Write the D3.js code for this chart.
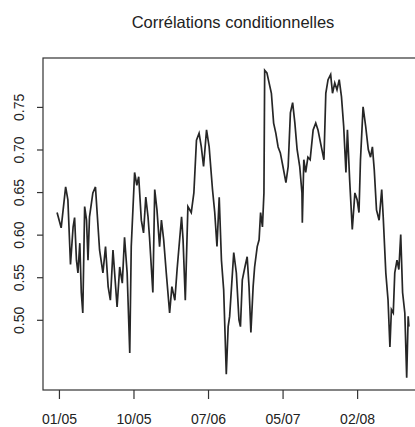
<!DOCTYPE html>
<html>
<head>
<meta charset="utf-8">
<script src="https://cdn.jsdelivr.net/npm/d3@7.9.0/dist/d3.min.js"></script>
<style>
  body { margin: 0; background: #fff; }
  svg { display: block; font-family: "Liberation Sans", Arial, sans-serif; }
</style>
</head>
<body>
<svg id="chart" width="415" height="427"></svg>
<script>
// ========= Data =========
const title = "Corrélations conditionnelles";

// observation number (trading day) of each reading
const days = [
  1, 12, 24, 30, 37, 44, 48, 53, 57, 62, 66, 70, 75, 80, 84, 88, 97, 104, 108, 115,
  124, 131, 138, 144, 151, 162, 169, 176, 182, 189, 196, 200, 209, 215, 220, 227, 233, 239, 245, 249,
  258, 263, 269, 276, 281, 287, 294, 303, 309, 317, 323, 335, 339, 345, 352, 361, 368, 375, 382, 388,
  394, 402, 409, 418, 424, 430, 436, 442, 448, 455, 460, 464, 475, 482, 489, 493, 498, 505, 511, 516,
  521, 527, 531, 538, 543, 547, 552, 556, 558, 564, 570, 576, 582, 588, 594, 600, 607, 615, 621, 627,
  633, 639, 645, 652, 658, 659, 663, 668, 674, 680, 688, 695, 701, 710, 717, 722, 728, 735, 740, 746,
  752, 758, 764, 770, 776, 780, 786, 793, 800, 806, 811, 815, 822, 829, 836, 842, 847, 852, 858, 865,
  872, 876, 883, 889, 894, 898, 903, 907, 913, 918, 923, 928, 934, 939, 943, 945
];

// conditional correlation
const correlations = [
  0.626, 0.608, 0.656, 0.641, 0.565, 0.609, 0.620, 0.570, 0.555, 0.590, 0.532, 0.508, 0.633, 0.617, 0.570, 0.621, 0.649, 0.656, 0.629, 0.582,
  0.555, 0.586, 0.539, 0.523, 0.582, 0.515, 0.562, 0.543, 0.597, 0.555, 0.461, 0.586, 0.673, 0.658, 0.668, 0.617, 0.602, 0.644, 0.621, 0.597,
  0.532, 0.653, 0.629, 0.586, 0.617, 0.594, 0.555, 0.508, 0.539, 0.523, 0.559, 0.621, 0.594, 0.523, 0.633, 0.626, 0.649, 0.711, 0.719, 0.703,
  0.680, 0.723, 0.703, 0.653, 0.626, 0.586, 0.644, 0.570, 0.535, 0.436, 0.492, 0.504, 0.579, 0.555, 0.500, 0.492, 0.547, 0.562, 0.574, 0.539,
  0.485, 0.539, 0.562, 0.586, 0.594, 0.626, 0.609, 0.649, 0.793, 0.790, 0.778, 0.766, 0.731, 0.719, 0.703, 0.696, 0.680, 0.661, 0.680, 0.743,
  0.755, 0.731, 0.700, 0.680, 0.649, 0.614, 0.688, 0.673, 0.691, 0.688, 0.723, 0.731, 0.723, 0.703, 0.688, 0.766, 0.782, 0.788, 0.766, 0.778,
  0.770, 0.782, 0.762, 0.727, 0.673, 0.723, 0.664, 0.606, 0.649, 0.641, 0.626, 0.688, 0.750, 0.727, 0.700, 0.691, 0.703, 0.676, 0.629, 0.617,
  0.653, 0.621, 0.555, 0.523, 0.468, 0.512, 0.508, 0.555, 0.570, 0.559, 0.600, 0.532, 0.508, 0.432, 0.504, 0.492
];

// x tick positions (observation number) and their date labels
const tickDays = [6, 206, 406, 606, 806];
const tickLabels = ["01/05", "10/05", "07/06", "05/07", "02/08"];
const yTicks = [0.50, 0.55, 0.60, 0.65, 0.70, 0.75];

// ========= Layout =========
const svg = d3.select("#chart");
const plotLeft = 43, plotRight = 423, plotTop = 58, plotBottom = 390;

// R-style 4% padding around the data range
function padded(ext) {
  const r = ext[1] - ext[0];
  return [ext[0] - 0.04 * r, ext[1] + 0.04 * r];
}

const x = d3.scaleLinear().domain(padded(d3.extent(days))).range([plotLeft, plotRight]);
const y = d3.scaleLinear().domain(padded(d3.extent(correlations))).range([plotBottom, plotTop]);

const points = days.map((d, i) => [d, correlations[i]]);

// ========= Line =========
const line = d3.line()
  .x((d) => x(d[0]))
  .y((d) => y(d[1]));

svg.append("path")
  .datum(points)
  .attr("d", line)
  .attr("fill", "none")
  .attr("stroke", "#262626")
  .attr("stroke-width", 1.7)
  .attr("stroke-linejoin", "miter");

// ========= Box =========
svg.append("rect")
  .attr("x", plotLeft)
  .attr("y", plotTop)
  .attr("width", plotRight - plotLeft)
  .attr("height", plotBottom - plotTop)
  .attr("fill", "none")
  .attr("stroke", "#333")
  .attr("stroke-width", 1.2);

// ========= Axes =========
const xAxis = d3.axisBottom(x)
  .tickValues(tickDays)
  .tickFormat((d, i) => tickLabels[i])
  .tickSize(9)
  .tickPadding(15);

const gx = svg.append("g")
  .attr("transform", `translate(0,${plotBottom})`)
  .call(xAxis);
gx.select(".domain").remove();
gx.selectAll("line").attr("stroke", "#333").attr("stroke-width", 1.2);
gx.selectAll("text").attr("font-size", 14).attr("fill", "#222");

const yAxis = d3.axisLeft(y)
  .tickValues(yTicks)
  .tickFormat(d3.format(".2f"))
  .tickSize(6);

const gy = svg.append("g")
  .attr("transform", `translate(${plotLeft},0)`)
  .call(yAxis);
gy.select(".domain").remove();
gy.selectAll("line").attr("stroke", "#333").attr("stroke-width", 1.2);
gy.selectAll("text")
  .attr("font-size", 14)
  .attr("fill", "#222")
  .attr("x", null)
  .attr("dy", null)
  .attr("text-anchor", "middle")
  .attr("transform", "translate(-19,0) rotate(-90)");

// ========= Title =========
svg.append("text")
  .attr("x", (plotLeft + plotRight) / 2)
  .attr("y", 28)
  .attr("text-anchor", "middle")
  .attr("font-size", 16.5)
  .attr("fill", "#222")
  .text(title);
</script>
</body>
</html>
